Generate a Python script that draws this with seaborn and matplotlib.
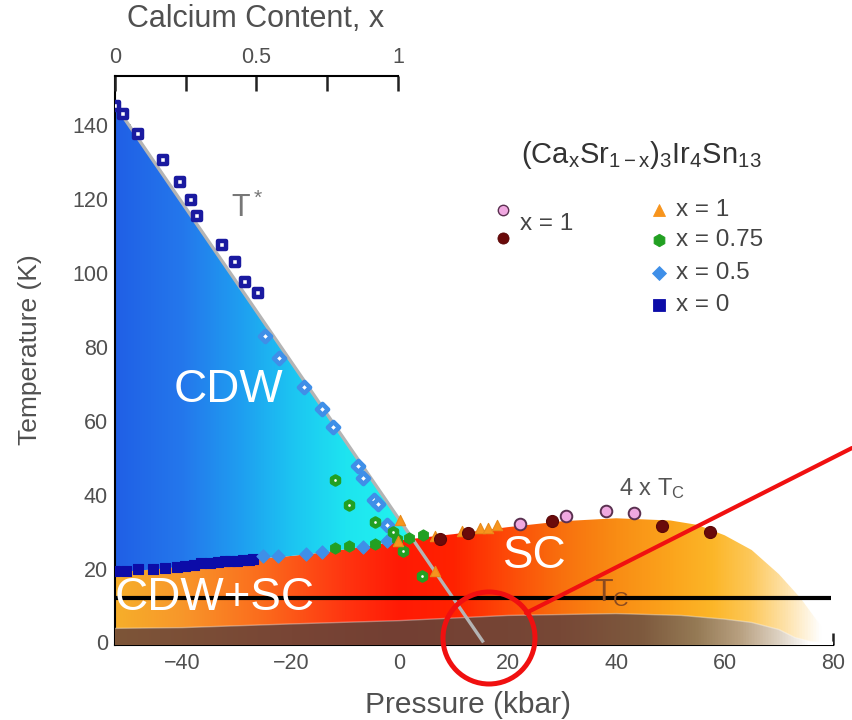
import numpy as np
import matplotlib
matplotlib.use("Agg")
import matplotlib.pyplot as plt
import seaborn as sns
from matplotlib.colors import LinearSegmentedColormap
from matplotlib.patches import Polygon, Ellipse
from matplotlib.lines import Line2D

# ---- values (pressure in kbar, temperature in K) ----
# T* points, open markers
tstar_sq_p = [-52.5, -51.0, -48.2, -43.6, -40.5, -38.5, -37.3, -32.7, -30.3, -28.5, -26.2]
tstar_sq_T = [145.3, 143.1, 137.7, 130.6, 124.6, 119.8, 115.4, 107.6, 103.0, 97.6, 94.6]
tstar_di_p = [-24.9, -22.2, -17.6, -14.3, -12.3, -7.6, -6.7, -4.7, -3.9, -2.3]
tstar_di_T = [82.9, 77.0, 69.1, 63.1, 58.3, 47.7, 44.4, 38.5, 37.4, 31.7]
tstar_hx_p = [-11.9, -9.3, -4.5, -1.2, 0.7, 4.2]
tstar_hx_T = [43.9, 37.1, 32.5, 29.8, 24.7, 17.9]

# 4 x Tc points, filled markers
tc_sq_p = [-52.5, -50.5, -48.2, -45.5, -43.2, -41.0, -39.5, -38.0, -36.7, -35.0,
           -33.5, -32.2, -31.2, -30.0, -28.8, -27.8, -27.0]
tc_sq_T = [19.2, 19.4, 19.8, 19.9, 20.1, 20.3, 20.6, 21.0, 21.4, 21.5,
           21.7, 21.9, 22.0, 22.1, 22.2, 22.4, 22.5]
tc_di_p = [-25.2, -22.4, -17.2, -14.3, -6.7, -2.3]
tc_di_T = [23.3, 23.3, 23.8, 24.4, 25.7, 27.4]
tc_hx_p = [-11.9, -9.3, -4.5, -0.5, 1.7, 4.4]
tc_hx_T = [25.5, 26.0, 26.6, 28.0, 28.3, 29.0]
tri_p = [0.1, -0.2, 6.6, 6.6, 11.5, 14.9, 16.4, 18.0]
tri_T = [33.0, 27.4, 19.2, 28.7, 30.2, 31.0, 31.1, 31.9]
maroon_p = [7.5, 12.6, 28.1, 48.5, 57.3]
maroon_T = [27.9, 29.5, 32.9, 31.4, 29.8]
pink_p = [22.3, 30.8, 38.2, 43.2]
pink_T = [32.0, 34.1, 35.5, 35.0]

# phase boundaries
tstar_line_p = [-52.5, 15.5]
tstar_line_T = [145.5, 0.0]
sc_top_p = [-52.5, -45, -40, -35, -30, -25, -20, -15, -10, -5, 0, 5, 10, 20, 30, 40,
            50, 55, 60, 65, 70, 74, 77, 80]
sc_top_T = [19.0, 19.8, 20.5, 21.2, 22.0, 22.8, 23.4, 24.2, 25.2, 26.3, 27.6, 28.5,
            29.3, 31.2, 32.8, 33.6, 33.0, 31.8, 29.0, 25.0, 18.5, 12.0, 6.0, 0.0]
tc_p = [-52.5, -40, -20, 0, 20, 40, 52, 60, 65, 70, 73, 76, 80]
tc_T = [3.8, 4.0, 5.0, 5.9, 7.3, 7.8, 7.3, 6.3, 5.4, 3.5, 1.3, 0.2, 0.0]

# colour stops along pressure
blue_stops = [(-52.5, "#2060e6"), (-40, "#2478ec"), (-30, "#1f9cf0"), (-20, "#1cc4f2"),
              (-10, "#1ee4f0"), (0, "#22f2ee"), (80, "#22f5ee")]
orange_stops = [(-52.5, "#f6ae2a"), (-40, "#f8962a"), (-25, "#fb6a1c"), (-10, "#ff3410"),
                (0, "#ff1a05"), (10, "#ff2200"), (20, "#fd4a08"), (30, "#f8700e"),
                (40, "#f98c14"), (50, "#fba41c"), (58, "#fcb628"), (65, "#fdc85a"),
                (72, "#fee4b0"), (78, "#ffffff"), (80, "#ffffff")]
brown_stops = [(-52.5, "#7d5538"), (-20, "#784535"), (0, "#733f33"), (30, "#774836"),
               (45, "#7e5a3e"), (55, "#957a55"), (63, "#b8a080"), (70, "#dcd0c0"),
               (76, "#ffffff"), (80, "#ffffff")]

XMIN, XMAX = -52.5, 80
YMIN, YMAX = -0.7, 153.3

sns.set_theme(style="white")
plt.rcParams["font.family"] = ["Liberation Sans", "DejaVu Sans"]
plt.rcParams["mathtext.fontset"] = "custom"
plt.rcParams["mathtext.rm"] = "Liberation Sans"
plt.rcParams["mathtext.it"] = "Liberation Sans:italic"

W, H = 852, 720
fig = plt.figure(figsize=(W / 100, H / 100), dpi=100)
ax = fig.add_axes([115 / W, 1 - 645 / H, 718 / W, 569 / H])


def fx(px):
    return px / W


def fy(py):
    return 1 - py / H


def make_cmap(stops):
    pos = [(p - XMIN) / (XMAX - XMIN) for p, _ in stops]
    return LinearSegmentedColormap.from_list("g", list(zip(pos, [c for _, c in stops])))


def grad_fill(verts, stops, z):
    poly = Polygon(verts, closed=True, transform=ax.transData, facecolor="none", edgecolor="none")
    ax.add_patch(poly)
    grad = np.linspace(0, 1, 512).reshape(1, -1)
    im = ax.imshow(grad, extent=[XMIN, XMAX, -2, 160], aspect="auto", cmap=make_cmap(stops),
                   origin="lower", zorder=z, interpolation="bilinear")
    im.set_clip_path(poly)


# SC region (orange/red) under the 4Tc dome and CDW boundary
sc_verts = [(XMIN, -2)] + list(zip(sc_top_p, sc_top_T)) + [(XMAX, -2)]
grad_fill(sc_verts, orange_stops, 1)

# CDW region (blue) between the boundary and T*
pp = np.linspace(XMIN, 15.5, 2000)
t_star = np.interp(pp, tstar_line_p, tstar_line_T)
t_low = np.interp(pp, sc_top_p, sc_top_T)
i_cross = np.argmax(t_star <= t_low)
cdw_verts = list(zip(pp[:i_cross + 1], t_star[:i_cross + 1])) + \
    list(zip(pp[:i_cross + 1][::-1], t_low[:i_cross + 1][::-1]))
grad_fill(cdw_verts, blue_stops, 2)

# Tc band (brown)
tc_verts = [(XMIN, -2)] + list(zip(tc_p, tc_T)) + [(XMAX, -2)]
grad_fill(tc_verts, brown_stops, 3)
ax.plot(tc_p, tc_T, color="white", lw=1, alpha=0.35, zorder=3.5)

# T* line
ax.plot(tstar_line_p, tstar_line_T, color="#b4b4b4", lw=2.4, zorder=4, solid_capstyle="butt")


def dots(p, t, marker, s, face, edge, lw, z=6):
    sns.scatterplot(x=p, y=t, marker=marker, s=s, color=face, edgecolor=edge,
                    linewidth=lw, ax=ax, zorder=z, legend=False)


dots(tc_sq_p, tc_sq_T, "s", 55, "#0c0ca8", "#0c0ca8", 0.8)
dots(tstar_sq_p, tstar_sq_T, "s", 28, "white", "#1a1aa0", 3.2)
dots(tc_di_p, tc_di_T, "D", 45, "#3f8fe8", "#3f8fe8", 0.8)
dots(tstar_di_p, tstar_di_T, "D", 32, "white", "#3f8fe8", 3.3)
dots(tc_hx_p, tc_hx_T, "h", 65, "#22a022", "#22a022", 0.8, z=7)
dots(tstar_hx_p, tstar_hx_T, "h", 34, "white", "#22a022", 3.2, z=7)
dots(tri_p, tri_T, "^", 55, "#f7941d", "#e88a1a", 0.8, z=7)
dots(maroon_p, maroon_T, "o", 75, "#6a0a0a", "#5a0808", 0.8, z=7)
dots(pink_p, pink_T, "o", 70, "#f0a8e0", "#5a3050", 1.4, z=7)

# axes styling
ax.set_xlim(XMIN, XMAX)
ax.set_ylim(YMIN, YMAX)
ax.set_xticks([-40, -20, 0, 20, 40, 60, 80])
ax.set_yticks([0, 20, 40, 60, 80, 100, 120, 140])
for s in ["top", "right"]:
    ax.spines[s].set_visible(False)
for s in ["left", "bottom"]:
    ax.spines[s].set_color("black")
    ax.spines[s].set_linewidth(1.5)
ax.tick_params(axis="x", direction="in", length=9, width=1.8, color="#222", pad=6,
               labelsize=15.5, labelcolor="#505050", bottom=True)
ax.tick_params(axis="y", direction="in", length=11, width=1.8, color="#222", pad=5,
               labelsize=15.5, labelcolor="#505050", left=True)

# top axis: calcium content
ax2 = ax.twiny()
ax2.set_xlim(0, (XMAX - XMIN) / (-0.3 - XMIN))
for s in ["left", "right", "bottom"]:
    ax2.spines[s].set_visible(False)
ax2.spines["top"].set_bounds(0, 1)
ax2.spines["top"].set_linewidth(1.5)
ax2.spines["top"].set_color("black")
ax2.set_xticks([0, 0.5, 1])
ax2.set_xticklabels(["0", "0.5", "1"])
ax2.set_xticks([0.25, 0.75], minor=True)
ax2.tick_params(axis="x", which="both", direction="in", length=11, width=1.8, color="#222",
                pad=6, labelsize=15.5, labelcolor="#505050", top=True)
ax2.grid(False)
ax.grid(False)

# axis titles
fig.text(fx(468), fy(705), "Pressure (kbar)", ha="center", va="center", fontsize=21.5, color="#505050")
fig.text(fx(256), fy(19), "Calcium Content, x", ha="center", va="center", fontsize=22, color="#505050")
fig.text(fx(30), fy(350), "Temperature (K)", ha="center", va="center", rotation=90,
         fontsize=19, color="#505050")

# region labels
ax.text(-31.6, 68.2, "CDW", color="white", fontsize=33, ha="center", va="center", zorder=9)
ax.text(25.0, 23.3, "SC", color="white", fontsize=33, ha="center", va="center", zorder=9)
ax.text(-52.5, 12.0, "CDW+SC", color="white", fontsize=33, ha="left", va="center", zorder=9)
ax.text(-28.1, 117.5, r"$\mathregular{T^*}$", color="#777", fontsize=22, ha="center", va="center")
ax.text(46.6, 41.7, r"$\mathregular{4\ x\ T_C}$", color="#555", fontsize=17, ha="center", va="center", zorder=9)
ax.text(39.2, 13.3, r"$\mathregular{T_C}$", color="#8a4a20", fontsize=22, ha="center", va="center", zorder=9)

# legend
fig.text(fx(641), fy(155), r"$\mathregular{(Ca_xSr_{1-x})_3Ir_4Sn_{13}}$", ha="center", va="center",
         fontsize=21, color="#333")
leg_items = [(503, 210, "o", 7.5, "#f0a8e0", "#5a3050", 1.0),
             (503, 238, "o", 8, "#6a0a0a", "#5a0808", 0.6),
             (659, 210, "^", 8, "#f7941d", "#f7941d", 0.6),
             (659, 240, "h", 9, "#22a022", "#22a022", 0.6),
             (659, 273, "D", 7.5, "#3f8fe8", "#3f8fe8", 0.6),
             (659, 305, "s", 8, "#0c0ca8", "#0c0ca8", 0.6)]
for x, y, m, ms, fc, ec, mew in leg_items:
    fig.add_artist(Line2D([fx(x)], [fy(y)], transform=fig.transFigure, marker=m, ms=ms,
                          mfc=fc, mec=ec, mew=mew, ls="none"))
fig.text(fx(520), fy(224), "x = 1", ha="left", va="center", fontsize=17.5, color="#444")
for y, lab in zip([210, 240, 273, 305], ["x = 1", "x = 0.75", "x = 0.5", "x = 0"]):
    fig.text(fx(676), fy(y), lab, ha="left", va="center", fontsize=17.5, color="#444")

# overlaid annotation: black line, red circle and pointer
ax.plot([XMIN, 79.7], [11.9, 11.9], color="black", lw=3, zorder=8, solid_capstyle="butt")
fig.add_artist(Ellipse((fx(489), fy(638)), width=92 / W, height=92 / H, transform=fig.transFigure,
                       fill=False, edgecolor="#f01010", lw=3.6, zorder=10))
fig.add_artist(Line2D([fx(526), fx(852)], [fy(613), fy(448)], transform=fig.transFigure,
                      color="#f01010", lw=3, zorder=10))

fig.savefig("out.png", dpi=100)
